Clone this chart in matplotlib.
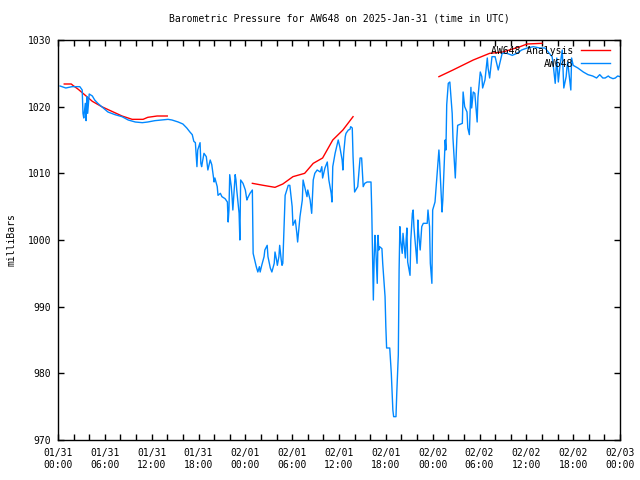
import numpy as np
import matplotlib
matplotlib.use("Agg")
import matplotlib.pyplot as plt
import matplotlib.dates as mdates

start = np.datetime64("2025-01-31T00:00")

# AW648 observations: hours after 2025-01-31 00:00 UTC, pressure in mb
obs_hours = [0.26, 1.0, 1.8, 2.8, 3.1, 3.2, 3.3, 3.5, 3.6, 3.7, 3.8, 4.0, 4.4, 4.7, 5.1, 5.8,
             6.4, 7.3, 8.2, 9.0, 9.9, 10.8, 11.5, 12.4, 13.3, 14.1, 14.6, 15.4, 16.0, 16.5,
             16.9, 17.2, 17.4, 17.6, 17.8, 17.9, 18.2, 18.3, 18.4, 18.7, 19.0, 19.2, 19.5,
             19.7, 20.0, 20.1, 20.4, 20.5, 20.8, 21.0, 21.4, 21.7, 21.8, 21.9, 22.0, 22.2,
             22.3, 22.4, 22.7, 22.8, 22.9, 23.2, 23.3, 23.4, 23.7, 24.0, 24.2, 24.3, 24.6,
             24.9, 25.0, 25.1, 25.4, 25.6, 25.8, 25.9, 26.1, 26.4, 26.5, 26.8, 26.9, 27.2,
             27.4, 27.7, 27.8, 28.0, 28.1, 28.3, 28.4, 28.6, 28.7, 28.8, 29.1, 29.5, 29.7,
             30.0, 30.1, 30.4, 30.6, 30.7, 31.0, 31.3, 31.4, 31.6, 31.9, 32.0, 32.3, 32.5,
             32.7, 32.9, 33.2, 33.6, 33.8, 33.9, 34.2, 34.5, 34.7, 35.0, 35.1, 35.2, 35.5,
             35.7, 35.9, 36.1, 36.4, 36.5, 36.6, 36.8, 36.9, 37.2, 37.4, 37.5, 37.7, 37.8,
             37.9, 38.0, 38.3, 38.4, 38.7, 38.9, 39.1, 39.3, 39.6, 40.1, 40.2, 40.4, 40.5,
             40.6, 40.7, 40.9, 41.0, 41.1, 41.2, 41.5, 41.6, 41.9, 42.0, 42.1, 42.5, 42.7,
             42.8, 42.9, 43.0, 43.3, 43.4, 43.6, 43.7, 43.8, 43.9, 44.1, 44.2, 44.5, 44.6,
             44.7, 44.8, 45.1, 45.2, 45.4, 45.5, 45.6, 45.7, 46.0, 46.1, 46.2, 46.4, 46.6,
             46.8, 47.3, 47.4, 47.6, 47.7, 47.9, 48.0, 48.3, 48.6, 48.8, 48.9, 49.2, 49.3,
             49.6, 49.7, 49.8, 50.0, 50.2, 50.5, 50.6, 50.9, 51.1, 51.2, 51.8, 51.9, 52.1,
             52.4, 52.5, 52.7, 52.9, 53.0, 53.2, 53.4, 53.7, 53.8, 54.1, 54.3, 54.4, 54.7,
             55.0, 55.1, 55.3, 55.6, 56.0, 56.4, 56.9, 57.5, 58.2, 58.8, 59.4, 60.1, 60.9,
             61.7, 62.4, 62.8, 63.3, 63.4, 63.7, 63.9, 64.1, 64.3, 64.6, 64.8, 65.1, 65.2,
             65.3, 65.7, 65.8, 66.0, 66.6, 67.3, 67.9, 68.5, 69.0, 69.4, 69.8, 70.1, 70.5,
             70.7, 71.1, 71.4, 71.7, 72.0]
obs_mb = [1023.1, 1022.8, 1023.0, 1023.0, 1022.5, 1019.0, 1018.3, 1020.5, 1017.9, 1021.5,
          1019.0, 1021.9, 1021.6, 1021.0, 1020.5, 1019.8, 1019.2, 1018.8, 1018.5, 1018.0,
          1017.7, 1017.6, 1017.7, 1017.9, 1018.0, 1018.1, 1018.0, 1017.7, 1017.4, 1016.8,
          1016.2, 1015.8, 1014.8, 1014.6, 1011.0, 1013.5, 1014.6, 1011.5, 1011.0, 1013.0,
          1012.5, 1010.5, 1012.0, 1011.3, 1008.7, 1009.3, 1008.0, 1006.7, 1007.0, 1006.5,
          1006.2, 1005.7, 1002.7, 1004.5, 1009.8, 1008.0, 1006.5, 1004.5, 1009.8, 1009.0,
          1007.5, 1004.0, 1000.0, 1009.0, 1008.5, 1007.5, 1006.0, 1006.3, 1007.0, 1007.5,
          998.0, 997.5, 996.0, 995.2, 996.0, 995.2, 996.2, 997.5, 998.5, 999.2, 997.5,
          995.8, 995.2, 996.5, 998.2, 997.0, 996.2, 997.5, 999.2, 997.0, 996.2, 996.5,
          1006.7, 1008.2, 1008.2, 1005.0, 1002.2, 1003.0, 1001.0, 999.7, 1003.5, 1006.0,
          1009.0, 1008.0, 1006.5, 1007.5, 1006.0, 1004.0, 1009.0, 1010.0, 1010.5, 1010.2,
          1011.0, 1009.3, 1010.8, 1011.7, 1009.0, 1007.0, 1005.7, 1011.0, 1013.0, 1014.0,
          1015.0, 1014.0, 1012.0, 1010.5, 1013.0, 1015.5, 1016.0, 1016.5, 1016.6, 1017.0,
          1016.8, 1012.5, 1010.0, 1007.2, 1007.8, 1008.0, 1012.3, 1012.3, 1008.0, 1008.5,
          1008.7, 1008.7, 1004.2, 991.0, 997.0, 1000.7, 999.0, 993.5, 1000.7, 998.5, 999.0,
          998.7, 996.5, 991.5, 987.0, 983.8, 983.8, 980.0, 977.3, 974.5, 973.5, 973.5,
          977.0, 982.8, 995.5, 1002.0, 1000.0, 998.0, 1001.0, 997.3, 1000.0, 1001.8, 996.7,
          994.7, 1000.0, 1004.0, 1004.5, 1002.0, 1000.5, 996.5, 1003.0, 1001.0, 998.5,
          1002.0, 1002.5, 1002.5, 1004.5, 1002.0, 996.5, 993.5, 1004.5, 1005.7, 1010.5,
          1013.5, 1011.5, 1004.2, 1006.0, 1015.0, 1013.5, 1020.3, 1023.5, 1023.7, 1019.0,
          1015.3, 1009.3, 1015.3, 1017.2, 1017.5, 1022.2, 1020.0, 1019.2, 1016.8, 1015.8,
          1022.9, 1019.8, 1022.2, 1022.0, 1017.7, 1021.4, 1025.2, 1024.5, 1022.8, 1024.0,
          1027.3, 1025.8, 1024.3, 1027.5, 1027.5, 1025.5, 1028.0, 1028.0, 1027.7, 1028.0,
          1028.5, 1028.8, 1029.0, 1028.8, 1028.8, 1028.2, 1027.5, 1026.7, 1023.5, 1027.3,
          1023.7, 1026.0, 1028.5, 1022.8, 1024.5, 1025.8, 1026.7, 1022.5, 1027.3, 1026.2,
          1025.8, 1025.2, 1024.8, 1024.6, 1024.3, 1024.8, 1024.3, 1024.3, 1024.6, 1024.4,
          1024.2, 1024.3, 1024.6, 1024.5]

# AW648 analysis, three separate runs
ana_hours_1 = [0.8, 1.7, 1.9, 2.6, 3.5, 4.4, 5.6, 6.9, 8.2, 9.5, 10.9, 11.5, 12.7, 14.0]
ana_mb_1 = [1023.4, 1023.4, 1023.2, 1022.6, 1021.7, 1020.8, 1020.0, 1019.3, 1018.6, 1018.1,
            1018.1, 1018.4, 1018.6, 1018.6]
ana_hours_2 = [24.9, 26.3, 27.8, 28.8, 30.1, 31.6, 32.7, 33.9, 35.2, 36.5, 37.8]
ana_mb_2 = [1008.5, 1008.2, 1007.9, 1008.4, 1009.5, 1010.0, 1011.5, 1012.3, 1015.0, 1016.5,
            1018.5]
ana_hours_3 = [48.8, 50.6, 53.2, 55.3, 57.0, 59.2, 60.1, 62.0]
ana_mb_3 = [1024.5, 1025.5, 1027.0, 1028.0, 1028.2, 1029.0, 1029.4, 1029.5]


def to_time(hours):
    return start + (np.array(hours) * 60).round().astype(int) * np.timedelta64(1, "m")


plt.rcParams["font.family"] = "DejaVu Sans Mono"
plt.rcParams["font.size"] = 7

fig = plt.figure(figsize=(6.4, 4.8), dpi=100)
ax = fig.add_axes([58 / 640, 40 / 480, 562 / 640, 400 / 480])

red = "#ff0000"
blue = "#0088ff"
ax.plot(to_time(ana_hours_1), ana_mb_1, color=red, lw=1.0, label="AW648 Analysis")
ax.plot(to_time(ana_hours_2), ana_mb_2, color=red, lw=1.0)
ax.plot(to_time(ana_hours_3), ana_mb_3, color=red, lw=1.0)
ax.plot(to_time(obs_hours), obs_mb, color=blue, lw=1.0, label="AW648")

ax.set_xlim(start, start + np.timedelta64(72, "h"))
ax.set_ylim(970, 1030)
ax.set_yticks(range(970, 1031, 10))
ax.xaxis.set_major_locator(mdates.HourLocator(byhour=range(0, 24, 6)))
ax.xaxis.set_minor_locator(mdates.HourLocator(byhour=range(0, 24, 2)))
ax.xaxis.set_major_formatter(mdates.DateFormatter("%m/%d\n%H:%M"))
ax.tick_params(which="both", direction="in", top=True, right=True, length=4,
               width=1, labelsize=7, pad=6)
ax.tick_params(axis="y", pad=5)

for s in ax.spines.values():
    s.set_linewidth(1)

ax.set_title("Barometric Pressure for AW648 on 2025-Jan-31 (time in UTC)", fontsize=7, pad=13)
ax.set_ylabel("milliBars", fontsize=7, labelpad=8)

ax.legend(loc="upper right", bbox_to_anchor=(1 - 4 / 562, 1), frameon=False,
          markerfirst=False, fontsize=7, handlelength=3.0, handletextpad=0.8,
          borderaxespad=0.2, labelspacing=0.3)

fig.savefig("out.png", dpi=100)
